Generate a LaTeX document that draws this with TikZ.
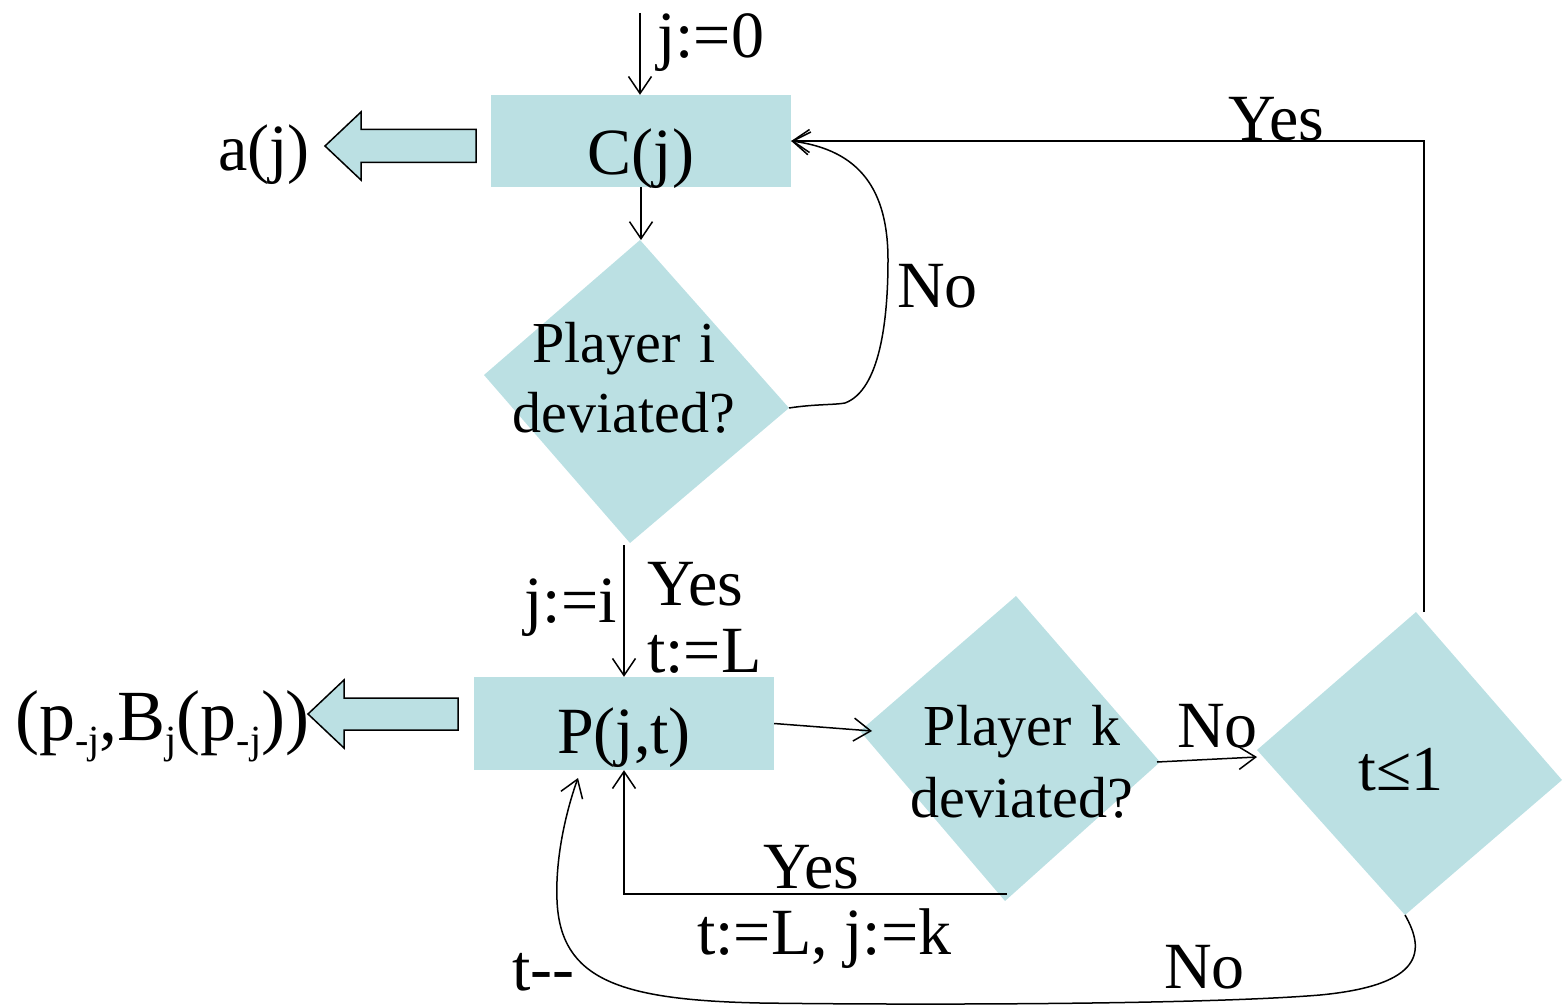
\documentclass[tikz,border=0pt]{standalone}
\usepackage{fontspec}
\setmainfont{Liberation Serif}
\usetikzlibrary{arrows.meta}
\definecolor{teal1}{RGB}{187,224,227}
\newcommand{\fsz}[2]{\fontsize{#1}{#2}\selectfont}
\newcommand{\sbs}[1]{\raisebox{-13pt}{\fsz{40}{40}#1}}
\tikzset{
  arr/.style={line width=1.5pt, -{Straight Barb[length=17pt,width=23pt]}},
  ln/.style={line width=1.5pt},
  box/.style={fill=teal1, inner sep=0pt, minimum width=300pt, minimum height=92pt, font=\fsz{66}{79}},
  lbl/.style={inner sep=0pt, font=\fsz{66}{79}},
  dtext/.style={inner sep=0pt, align=center, text width=260pt, anchor=base},
  diam/.style={fill=teal1},
  barrow/.style={fill=teal1, draw=black, line width=1.5pt, line join=miter},
}
\begin{document}
\begin{tikzpicture}[x=1pt,y=-1pt]
\useasboundingbox (0,0) rectangle (1564,1006);

% boxes
\node[box, text height=68pt, text depth=0pt] (C) at (641,141) {C(j)};
\node[box, minimum height=93pt, text height=60pt, text depth=0pt] (P) at (624,723.5) {P(j,t)};

% diamonds
\coordinate (di-t) at (640,240);
\coordinate (di-r) at (789,408);
\coordinate (di-b) at (630,543);
\coordinate (di-l) at (484,375);
\coordinate (dk-t) at (1016,596);
\coordinate (dk-r) at (1160,762);
\coordinate (dk-b) at (1005,901);
\coordinate (dk-l) at (860,731);
\coordinate (dt-t) at (1416,612);
\coordinate (dt-r) at (1562,780);
\coordinate (dt-b) at (1405,915);
\coordinate (dt-l) at (1257,750);
\fill[diam] (di-t) -- (di-r) -- (di-b) -- (di-l) -- cycle;
\fill[diam] (dk-t) -- (dk-r) -- (dk-b) -- (dk-l) -- cycle;
\fill[diam] (dt-t) -- (dt-r) -- (dt-b) -- (dt-l) -- cycle;
\node[dtext, font=\fsz{58}{70}] (di) at (624,362) {Player i\\deviated?};
\node[dtext, font=\fsz{58}{72}] (dk) at (1022,745) {Player k\\deviated?};
\node[lbl, anchor=base, font=\fsz{64}{76}] (dt) at (1401,790) {t≤1};

% block arrows
\draw[barrow] (325,146) -- (361,112) -- (361,129.5) -- (476,129.5) -- (476,162.5) -- (361,162.5) -- (361,180) -- cycle;
\draw[barrow] (308,714) -- (344,680) -- (344,698) -- (458,698) -- (458,730) -- (344,730) -- (344,748) -- cycle;
\node[lbl, anchor=base east] (aj) at (310,171) {a(j)};
\node[lbl, anchor=base west, font=\fsz{72}{86}] (pj) at (15,740) {(p\sbs{-j},B\sbs{j}(p\sbs{-j}))};

% connectors
\coordinate (start) at (640,13);
\draw[arr] (start) -- (start |- C.north);
\draw[arr] (C.south) -- (C.south |- di-t);
\coordinate (iyes) at (624,545);
\draw[arr] (iyes) -- (P.north);
\draw[arr] (P.east) -- ([xshift=12pt]dk-l);
\draw[arr] ([xshift=-3pt]dk-r) -- ([yshift=-7pt]dt-l);
\coordinate (tyes) at (1424,612);
\draw[arr] (tyes) |- (C.east);
\draw[arr] (di-r) .. controls (815,404) and (835,405) .. (845,403)
  .. controls (880,390) and (888,320) .. (888,260)
  .. controls (888,190) and (860,150) .. (C.east);
\coordinate (kyes) at (1007,894);
\draw[arr] (kyes) -- (P.south |- kyes) -- (P.south);
\draw[arr] (dt-b) .. controls (1425,950) and (1425,985) .. (1320,995)
  .. controls (1200,1005) and (900,1005) .. (760,1003)
  .. controls (620,1000) and (560,980) .. (557,900)
  .. controls (555,850) and (570,800) .. (578,778);

% labels
\node[lbl, anchor=base west] (l1) at (657,58) {j:=0};
\node[lbl, anchor=base west] (l2) at (897,307) {No};
\node[lbl, anchor=base west] (l3) at (1228,141) {Yes};
\node[lbl, anchor=base east] (l4) at (617,622) {j:=i};
\node[lbl, anchor=base west] (l5) at (647,605) {Yes};
\node[lbl, anchor=base west] (l6) at (647,672) {t:=L};
\node[lbl, anchor=base west] (l7) at (1177,747) {No};
\node[lbl, anchor=base west] (l8) at (763,888) {Yes};
\node[lbl, anchor=base west] (l9) at (697,954) {t:=L, j:=k};
\node[lbl, anchor=base west, text depth=0pt] (l10) at (512,990) {t-{}-};
\node[lbl, anchor=base west] (l11) at (1164,988) {No};
\end{tikzpicture}
\end{document}
